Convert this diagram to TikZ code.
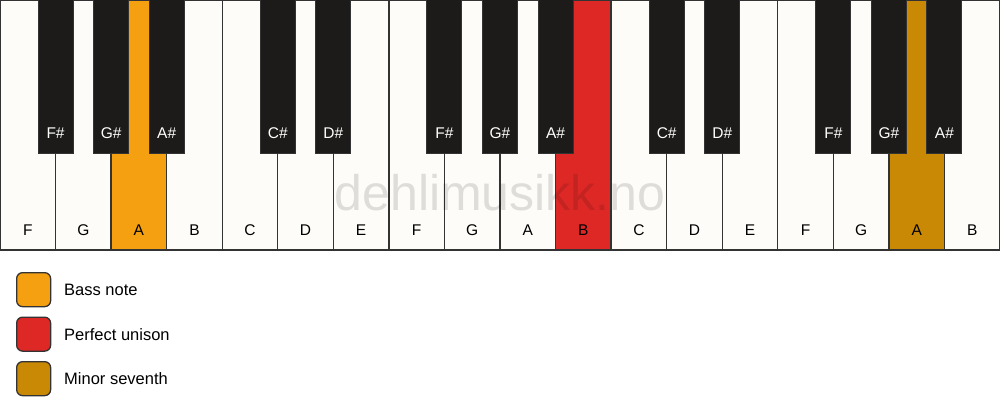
\documentclass[tikz,border=0pt]{standalone}
\usepackage{fontspec}
\setmainfont{Liberation Sans}
\definecolor{ivory}{HTML}{FDFCF8}
\definecolor{keyblack}{HTML}{1C1B19}
\definecolor{edge}{HTML}{333333}
\definecolor{bassorange}{HTML}{F4A010}
\definecolor{unisonred}{HTML}{DE2826}
\definecolor{seventhgold}{HTML}{C98905}
\tikzset{
  whitekey/.style={draw=edge, line width=1.3pt, fill=ivory, rectangle, anchor=north west,
    minimum width=55.556pt, minimum height=250pt, inner sep=0pt, outer sep=0pt},
  blackkey/.style={draw=edge, line width=1pt, fill=keyblack, rectangle, anchor=north,
    minimum width=35pt, minimum height=153pt, inner sep=0pt, outer sep=0pt},
  wlabel/.style={font=\fontsize{15.5}{15.5}\selectfont, text=black},
  blabel/.style={font=\fontsize{15.5}{15.5}\selectfont, text=white},
  legbox/.style={draw=edge, line width=1.3pt, rounded corners=6pt, minimum width=34pt,
    minimum height=34pt, inner sep=0pt, anchor=north west},
  legtext/.style={font=\fontsize{16.5}{16.5}\selectfont, anchor=west, inner sep=0pt},
}
\begin{document}
\begin{tikzpicture}[x=1pt,y=-1pt]
\useasboundingbox[fill=white] (0,0) rectangle (1000,417);
% white keys
\foreach \n [count=\i from 0] in {F,G,A,B,C,D,E,F,G,A,B,C,D,E,F,G,A,B}{
  \pgfmathsetmacro{\xx}{\i*55.5556}
  \ifnum\i=2 \def\kc{bassorange}\else\ifnum\i=10 \def\kc{unisonred}\else\ifnum\i=16 \def\kc{seventhgold}\else\def\kc{ivory}\fi\fi\fi
  \node[whitekey, fill=\kc] (w\i) at (\xx,0) {};
  \node[wlabel] (wl\i) at ([yshift=20pt]w\i.south) {\n};
}
% black keys
\foreach \b/\n in {1/F\#,2/G\#,3/A\#,5/C\#,6/D\#,8/F\#,9/G\#,10/A\#,12/C\#,13/D\#,15/F\#,16/G\#,17/A\#}{
  \pgfmathsetmacro{\xx}{\b*55.5556}
  \node[blackkey] (b\b) at (\xx,0) {};
  \node[blabel] (bl\b) at ([yshift=20pt]b\b.south) {\n};
}
% watermark
\node[font=\fontsize{50}{50}\selectfont, text=black, text opacity=0.12] (wm) at (500,193) {dehlimusikk.no};
% legend
\node[legbox, fill=bassorange] (l1) at (16,272) {};
\node[legtext] (t1) at (64,290) {Bass note};
\node[legbox, fill=unisonred] (l2) at (16,316.5) {};
\node[legtext] (t2) at (64,334.5) {Perfect unison};
\node[legbox, fill=seventhgold] (l3) at (16,361) {};
\node[legtext] (t3) at (64,379) {Minor seventh};
\end{tikzpicture}
\end{document}
